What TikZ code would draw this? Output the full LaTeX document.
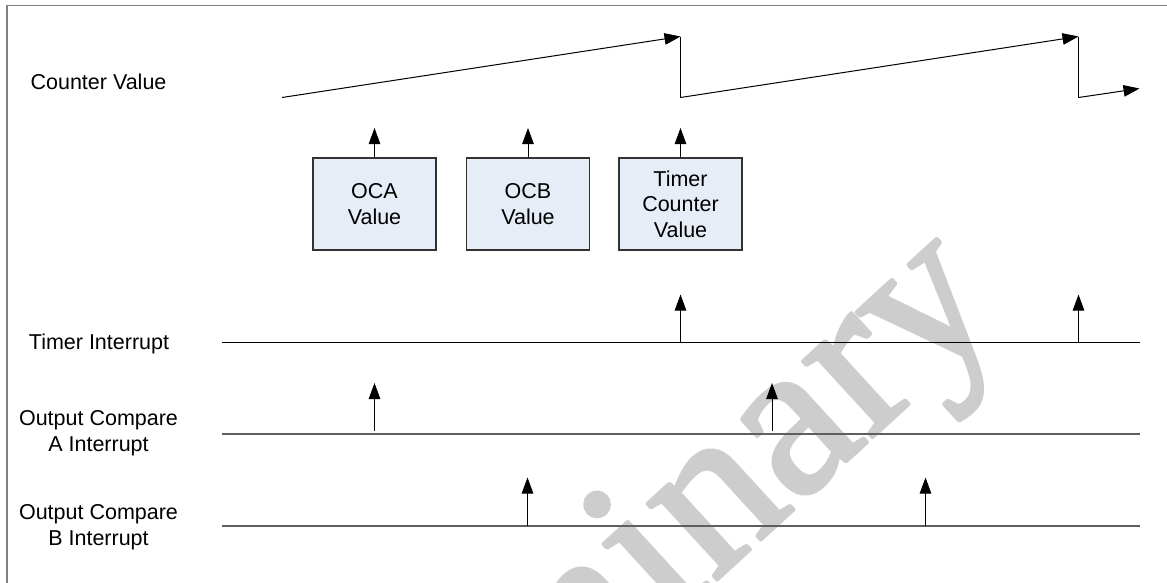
\documentclass[tikz,border=0pt]{standalone}
\usepackage{fontspec}
\setmainfont{Liberation Sans}
\newfontfamily\wmfont{Liberation Serif}
\usetikzlibrary{arrows.meta}
\definecolor{boxfill}{RGB}{230,237,247}
\definecolor{boxline}{RGB}{50,50,50}
\definecolor{framegray}{RGB}{128,128,128}
\definecolor{wmgray}{RGB}{205,205,205}
\definecolor{sigline}{RGB}{95,95,95}
\newcommand{\wmstrokeon}{\special{pdf:literal direct 2 Tr 4 w 1 j}}
\newcommand{\wmstrokeoff}{\special{pdf:literal direct 0 Tr}}
\begin{document}
\begin{tikzpicture}[x=1pt,y=-1pt,
  lbl/.style={font=\fontsize{21.5}{26}\selectfont, align=center, inner sep=0pt, outer sep=0pt},
  valbox/.style={draw=boxline, fill=boxfill, line width=1.2pt, minimum width=123pt, minimum height=92pt,
    inner sep=0pt, align=center, font=\fontsize{21.5}{25.5}\selectfont},
  arr/.style={-{Triangle[length=16pt,width=11.5pt]}, line width=1pt, black},
  wave/.style={line width=1pt, black},
  timerline/.style={line width=1pt, black},
  sigl/.style={line width=1.5pt, sigline},
  frameline/.style={line width=1.7pt, framegray},
  watermark/.style={font=\wmfont\fontsize{224}{224}\selectfont, text=wmgray, inner sep=0pt, outer sep=0pt}
]
\useasboundingbox (0,0) rectangle (1167,582);
\clip (0,0) rectangle (1167,582);

% watermark (behind everything)
\node[watermark, anchor=base west, rotate=42.5] (wm) at (227,1028.6) {\wmstrokeon Preliminary\wmstrokeoff};

% frame
\draw[frameline] (7,590) -- (7,5.5) -- (1175,5.5);

% labels
\node[lbl, anchor=base] (lcv) at (98.5,89) {Counter Value};
\node[lbl, anchor=base] (lti) at (99,349) {Timer Interrupt};
\node[lbl, anchor=north] (loa) at (98.5,410.5) {Output Compare\\A Interrupt};
\node[lbl, anchor=north] (lob) at (98.5,504.5) {Output Compare\\B Interrupt};

% counter sawtooth
\coordinate (s0) at (282,97.5);
\coordinate (p1) at (680.5,36.5);
\coordinate (l1) at (680.5,97.5);
\coordinate (p2) at (1078.5,36.5);
\coordinate (l2) at (1078.5,97.5);
\coordinate (e3) at (1139.5,88.5);
\draw[arr] (s0) -- (p1);
\draw[wave] (p1) -- (l1);
\draw[arr] (l1) -- (p2);
\draw[wave] (p2) -- (l2);
\draw[arr] (l2) -- (e3);

% value boxes
\node[valbox] (oca) at (374.5,204) {OCA\\Value};
\node[valbox] (ocb) at (528,204) {OCB\\Value};
\node[valbox] (tcv) at (680.5,204) {Timer\\Counter\\Value};
\coordinate (toca) at (374.5,128);
\coordinate (tocb) at (528,128);
\coordinate (ttcv) at (680.5,128);
\draw[arr] (oca.north) -- (toca);
\draw[arr] (ocb.north) -- (tocb);
\draw[arr] (tcv.north) -- (ttcv);

% signal lines
\coordinate (tis) at (222,342);
\coordinate (tie) at (1140,342);
\coordinate (oas) at (222,434);
\coordinate (oae) at (1140,434);
\coordinate (obs) at (222,526);
\coordinate (obe) at (1140,526);
\draw[timerline] (tis) -- (tie);
\draw[sigl] (oas) -- (oae);
\draw[sigl] (obs) -- (obe);

% timer interrupt pulses
\coordinate (ti1b) at (680.5,342);
\coordinate (ti1t) at (680.5,294.5);
\coordinate (ti2b) at (1078.5,342);
\coordinate (ti2t) at (1078.5,294.5);
\draw[arr] (ti1b) -- (ti1t);
\draw[arr] (ti2b) -- (ti2t);

% output compare A pulses
\coordinate (oa1b) at (374.5,431);
\coordinate (oa1t) at (374.5,383);
\coordinate (oa2b) at (772,431);
\coordinate (oa2t) at (772,383);
\draw[arr] (oa1b) -- (oa1t);
\draw[arr] (oa2b) -- (oa2t);

% output compare B pulses
\coordinate (ob1b) at (527.5,526);
\coordinate (ob1t) at (527.5,477.5);
\coordinate (ob2b) at (925.5,526);
\coordinate (ob2t) at (925.5,477.5);
\draw[arr] (ob1b) -- (ob1t);
\draw[arr] (ob2b) -- (ob2t);
\end{tikzpicture}
\end{document}
